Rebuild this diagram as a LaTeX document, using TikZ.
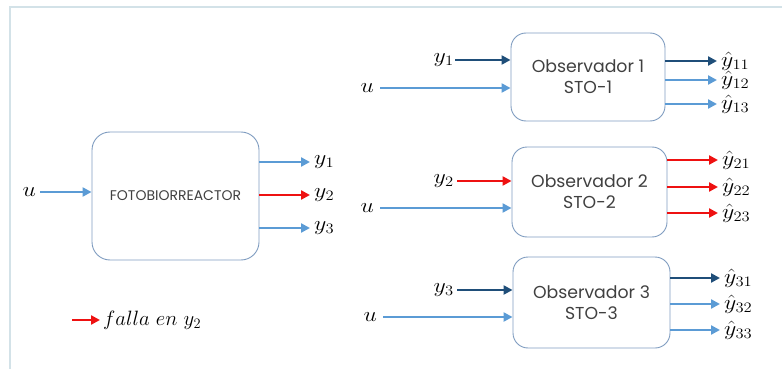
\documentclass[tikz,border=0pt]{standalone}
\usepackage{fontspec}
\newfontfamily\boxfont{Poppins}
\usetikzlibrary{arrows.meta}
\definecolor{lblue}{HTML}{5B9BD5}
\definecolor{dblue}{HTML}{1F4E79}
\definecolor{fred}{HTML}{EE1111}
\definecolor{edgec}{HTML}{7F9CC0}
\definecolor{framec}{HTML}{D3E2E8}
\definecolor{txtc}{HTML}{404040}
\newcommand{\wide}[1]{\scalebox{1.15}[1]{$#1$}}
\begin{document}
\begin{tikzpicture}[x=1pt,y=-1pt,
  blk/.style={draw=edgec, line width=0.9pt, rounded corners=15pt, align=center, inner sep=0pt, text=txtc},
  obs/.style={blk, font=\boxfont\fontsize{17.3}{21}\selectfont},
  lab/.style={inner xsep=4pt, inner ysep=0pt, font=\fontsize{20.74}{21}\selectfont},
  arr/.style={line width=2.6pt, -{Triangle[length=9pt,width=9pt]}},
  la/.style={arr, draw=lblue},
  da/.style={arr, draw=dblue},
  ra/.style={arr, draw=fred}]
\useasboundingbox (0,0) rectangle (782,369);
% frame
\draw[framec, line width=2pt] (782,7) -- (10,7) -- (10,369);

% plant
\node[blk, minimum width=167pt, minimum height=128pt, rounded corners=18pt,
      font=\boxfont\fontsize{14}{15}\selectfont] (fb) at (175.5,196) {FOTOBIORREACTOR};
\node[lab, anchor=east] (u0) at (40,192) {\wide{u}};
\draw[la] (u0.east) -- (fb.west |- u0.east);
\node[lab, anchor=west] (y1) at (310,162) {\wide{y_1}};
\node[lab, anchor=west] (y2) at (310,195) {\wide{y_2}};
\node[lab, anchor=west] (y3) at (310,228) {\wide{y_3}};
\draw[la] (fb.east |- y1.west) -- (y1.west);
\draw[ra] (fb.east |- y2.west) -- (y2.west);
\draw[la] (fb.east |- y3.west) -- (y3.west);

% legend
\coordinate (lg) at (72,320);
\node[lab, anchor=west, inner xsep=3pt] (fl) at (100,320) {$falla\ en\ y_2$};
\draw[ra] (lg) -- (fl.west);

% observer 1
\node[obs, minimum width=154pt, minimum height=88pt] (ob1) at (588,77) {Observador 1\\STO-1};
\node[lab, anchor=east, inner xsep=1pt] (i11) at (455,60) {\wide{y_1}};
\node[lab, anchor=east, inner xsep=6pt] (i12) at (380,88) {\wide{u}};
\draw[da] (i11.east) -- (ob1.west |- i11.east);
\draw[la] (i12.east) -- (ob1.west |- i12.east);
\node[lab, anchor=west] (h11) at (717,61) {\wide{\hat{y}_{11}}};
\node[lab, anchor=west] (h12) at (717,80) {\wide{\hat{y}_{12}}};
\node[lab, anchor=west] (h13) at (717,104) {\wide{\hat{y}_{13}}};
\draw[da] (ob1.east |- h11.west) -- (h11.west);
\draw[la] (ob1.east |- h12.west) -- (h12.west);
\draw[la] (ob1.east |- h13.west) -- (h13.west);

% observer 2
\node[obs, minimum width=155pt, minimum height=90pt] (ob2) at (589.5,192) {Observador 2\\STO-2};
\node[lab, anchor=east, inner xsep=3pt] (i21) at (457,181) {\wide{y_2}};
\node[lab, anchor=east, inner xsep=6pt] (i22) at (380,208) {\wide{u}};
\draw[ra] (i21.east) -- (ob2.west |- i21.east);
\draw[la] (i22.east) -- (ob2.west |- i22.east);
\node[lab, anchor=west] (h21) at (718,160) {\wide{\hat{y}_{21}}};
\node[lab, anchor=west] (h22) at (718,187) {\wide{\hat{y}_{22}}};
\node[lab, anchor=west] (h23) at (718,213) {\wide{\hat{y}_{23}}};
\draw[ra] (ob2.east |- h21.west) -- (h21.west);
\draw[ra] (ob2.east |- h22.west) -- (h22.west);
\draw[ra] (ob2.east |- h23.west) -- (h23.west);

% observer 3
\node[obs, minimum width=157pt, minimum height=91pt] (ob3) at (591.5,302.5) {Observador 3\\STO-3};
\node[lab, anchor=east, inner xsep=3pt] (i31) at (457,290) {\wide{y_3}};
\node[lab, anchor=east, inner xsep=6pt] (i32) at (383,317) {\wide{u}};
\draw[da] (i31.east) -- (ob3.west |- i31.east);
\draw[la] (i32.east) -- (ob3.west |- i32.east);
\node[lab, anchor=west] (h31) at (720,278) {\wide{\hat{y}_{31}}};
\node[lab, anchor=west] (h32) at (720,304) {\wide{\hat{y}_{32}}};
\node[lab, anchor=west] (h33) at (720,330) {\wide{\hat{y}_{33}}};
\draw[da] (ob3.east |- h31.west) -- (h31.west);
\draw[la] (ob3.east |- h32.west) -- (h32.west);
\draw[la] (ob3.east |- h33.west) -- (h33.west);
\end{tikzpicture}
\end{document}
